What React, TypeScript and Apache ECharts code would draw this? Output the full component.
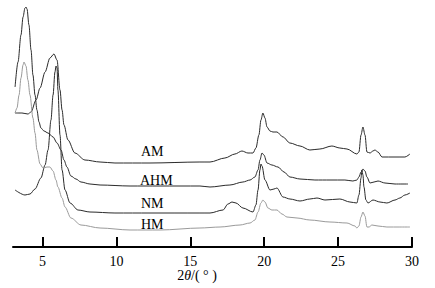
import React, { useEffect, useRef } from "react";
import * as echarts from "echarts";

// 2θ (degrees) vs relative intensity (arbitrary units, stacked offsets)
const AM: [number, number][] = [
  [3.14,134],[3.61,134],[4.01,133],[4.22,135],[4.56,147],[4.83,159],[5.17,175],[5.50,189],[5.77,193],[5.98,187],[6.18,157],[6.32,137],[6.45,122],[6.72,107],[7.19,94],[7.87,87],[8.89,85],[9.90,84],[12.27,84],[15.65,85],[16.33,85],[17.34,89],[18.02,93],[18.49,96],[18.90,94],[19.24,94],[19.44,99],[19.64,112],[19.78,127],[19.91,134],[20.05,129],[20.19,120],[20.39,116],[20.59,115],[20.86,115],[21.27,110],[21.74,104],[22.42,101],[23.09,97],[23.77,98],[24.58,101],[25.12,99],[25.60,98],[26.27,93],[26.41,95],[26.55,112],[26.68,120],[26.82,112],[26.95,95],[27.16,94],[27.36,96],[27.49,97],[27.70,95],[27.97,90],[28.85,90],[29.52,90],[29.86,93]
];
const AHM: [number, number][] = [
  [3.14,160],[3.34,185],[3.54,212],[3.68,230],[3.81,239],[3.88,240],[3.95,238],[4.08,222],[4.22,197],[4.35,172],[4.49,152],[4.62,137],[4.76,125],[4.89,119],[5.10,116],[5.37,114],[5.71,110],[5.98,104],[6.25,97],[6.45,87],[6.65,80],[6.92,71],[7.26,68],[7.60,65],[8.21,63],[8.89,62],[10.92,61],[12.95,61],[15.65,61],[16.33,60],[17.68,62],[18.56,65],[19.04,67],[19.37,70],[19.58,77],[19.71,87],[19.85,94],[19.98,92],[20.19,84],[20.52,82],[20.93,80],[21.34,75],[21.74,70],[22.42,68],[23.43,67],[24.45,67],[25.46,67],[26.00,66],[26.27,67],[26.41,70],[26.55,75],[26.68,78],[26.82,76],[26.95,70],[27.16,64],[27.43,65],[27.70,66],[28.17,64],[28.85,63],[29.73,63]
];
const NM: [number, number][] = [
  [3.14,57],[3.81,52],[4.15,53],[4.49,58],[4.89,69],[5.17,82],[5.37,97],[5.57,127],[5.71,152],[5.84,175],[5.91,181],[5.98,179],[6.04,157],[6.18,112],[6.32,77],[6.52,57],[6.86,44],[7.40,37],[8.21,35],[9.90,34],[12.27,34],[15.65,34],[16.33,34],[17.21,37],[17.55,43],[17.82,45],[18.09,44],[18.56,39],[19.24,35],[19.44,42],[19.58,57],[19.71,77],[19.78,83],[19.85,81],[20.05,67],[20.39,57],[20.66,58],[20.86,59],[21.27,50],[21.74,48],[22.42,46],[23.09,48],[23.57,49],[24.11,47],[25.12,48],[25.80,45],[26.27,44],[26.41,52],[26.55,69],[26.61,77],[26.68,72],[26.75,60],[26.88,47],[27.02,44],[27.36,47],[27.83,45],[28.30,44],[28.85,47],[29.18,49],[29.52,52],[29.86,54]
];
const HM: [number, number][] = [
  [3.14,134],[3.27,139],[3.41,152],[3.54,169],[3.68,182],[3.74,185],[3.88,181],[4.01,167],[4.15,152],[4.35,129],[4.49,114],[4.62,97],[4.83,83],[5.03,79],[5.30,80],[5.50,80],[5.71,76],[5.91,67],[6.04,60],[6.32,49],[6.52,40],[6.92,29],[7.60,22],[8.89,19],[10.92,17],[12.95,17],[15.65,19],[17.01,20],[18.36,22],[19.04,24],[19.37,27],[19.58,35],[19.78,44],[19.91,47],[20.05,45],[20.25,39],[20.52,37],[20.86,37],[21.20,33],[21.54,30],[22.22,29],[23.09,27],[24.45,25],[25.60,24],[26.14,21],[26.27,19],[26.41,21],[26.55,30],[26.68,35],[26.82,31],[26.95,20],[27.09,20],[27.29,22],[27.70,21],[28.30,20],[29.18,20],[29.86,20]
];
const SERIES_NAMES = ["AM", "AHM", "NM", "HM"];
const SERIES_COLORS = ["#2a2a2a", "#2a2a2a", "#2a2a2a", "#9a9a9a"];
const X_MIN = 3;
const X_MAX = 30;

const SERIF = "Liberation Serif";

export default function App() {
  const ref = useRef<HTMLDivElement>(null);
  useEffect(() => {
    if (!ref.current) return;
    const chart = echarts.init(ref.current, null, { renderer: "svg" });
    const datasets = [AM, AHM, NM, HM];
    const labelPos = [
      { x: 141, y: 152 },
      { x: 140, y: 181 },
      { x: 141, y: 204 },
      { x: 141, y: 225 },
    ];
    chart.setOption({
      animation: false,
      backgroundColor: "#ffffff",
      textStyle: { fontFamily: SERIF },
      grid: { left: 13, right: 23, top: 0, bottom: 41, containLabel: false },
      xAxis: {
        type: "value",
        min: X_MIN,
        max: X_MAX,
        axisLine: { show: true, lineStyle: { color: "#000", width: 2 } },
        axisTick: { show: true, inside: true, length: 10, lineStyle: { color: "#000", width: 2 } },
        minorTick: { show: false },
        splitLine: { show: false },
        axisLabel: {
          show: true,
          margin: 7,
          showMinLabel: false,
          color: "#000",
          fontFamily: SERIF,
          fontSize: 14,
        },
      },
      yAxis: {
        type: "value",
        min: 0,
        max: 247,
        show: false,
        splitLine: { show: false },
      },
      series: datasets.map((d, i) => ({
        name: SERIES_NAMES[i],
        type: "line",
        data: d,
        showSymbol: false,
        symbol: "none",
        smooth: 0.3,
        smoothMonotone: "x",
        lineStyle: { color: SERIES_COLORS[i], width: 1 },
        z: 2,
      })),
      graphic: [
        ...SERIES_NAMES.map((n, i) => ({
          type: "text",
          left: labelPos[i].x,
          top: labelPos[i].y - 8,
          style: {
            text: n,
            fill: "#000",
            fontFamily: SERIF,
            fontSize: 14,
          },
        })),
        {
          type: "text",
          x: 197,
          y: 275,
          style: {
            text: "{a|2}{b|θ}{a|/( ° )}",
            align: "center",
            verticalAlign: "middle",
            fontFamily: SERIF,
            fontSize: 14,
            fill: "#000",
            rich: {
              a: { fontFamily: SERIF, fontSize: 14, fill: "#000" },
              b: { fontFamily: SERIF, fontSize: 14, fontStyle: "italic", fill: "#000" },
            },
          },
        },
      ],
    });
    return () => chart.dispose();
  }, []);
  return (
    <div
      ref={ref}
      style={{ position: "absolute", left: 0, top: 0, width: 435, height: 288, background: "#fff" }}
    />
  );
}
